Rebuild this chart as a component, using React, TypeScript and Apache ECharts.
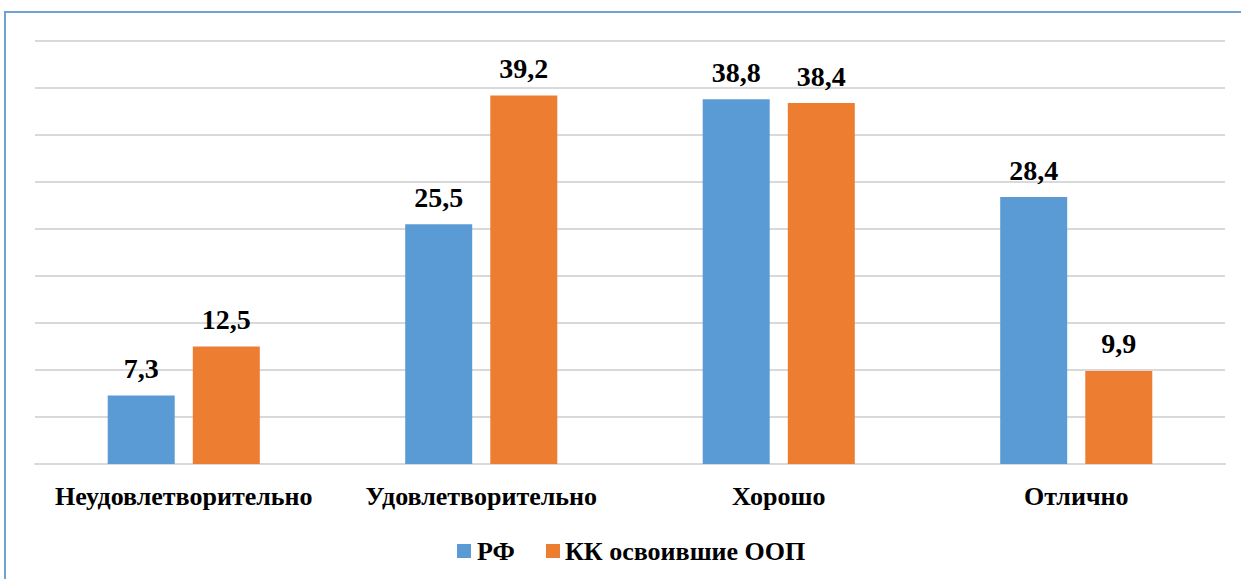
import React, { useEffect, useRef } from "react";
import * as echarts from "echarts";

const categories = ["Неудовлетворительно", "Удовлетворительно", "Хорошо", "Отлично"];
const seriesNames = ["РФ", "КК освоившие ООП"];
const rfValues = [7.3, 25.5, 38.8, 28.4];
const kkValues = [12.5, 39.2, 38.4, 9.9];
const colors = ["#5B9BD5", "#ED7D31"];

const FONT = "Liberation Serif";
const K = 2;

export default function App() {
  const ref = useRef<HTMLDivElement>(null);
  useEffect(() => {
    document.body.style.margin = "0";
    const chart = echarts.init(ref.current!, undefined, { renderer: "svg" });
    const seriesData = [rfValues, kkValues];
    chart.setOption({
      animation: false,
      backgroundColor: "#fff",
      color: colors,
      grid: { left: 35, right: 16, top: 41, bottom: 115 },
      xAxis: {
        type: "category",
        data: categories,
        axisTick: { show: false },
        axisLine: { lineStyle: { color: "#d9d9d9", width: 2 } },
        axisLabel: { show: false },
      },
      yAxis: {
        type: "value",
        min: 0,
        max: 45,
        interval: 5,
        axisLabel: { show: false },
        axisLine: { show: false },
        axisTick: { show: false },
        splitLine: { lineStyle: { color: "#d9d9d9", width: 2 } },
      },
      series: seriesData.map((d, i) => ({
        name: seriesNames[i],
        type: "bar",
        data: d,
        barWidth: 67,
        barGap: "27%",
      })),
    });

    const mkText = (x: number, y: number, text: string, size: number, align: string, vAlign: string) => ({
      type: "text",
      x,
      y,
      scaleX: K,
      scaleY: K,
      style: {
        text,
        align,
        verticalAlign: vAlign,
        fontFamily: FONT,
        fontWeight: "bold",
        fontSize: size / K,
        fill: "#000",
      },
    });
    const graphics: any[] = [
      {
        type: "rect",
        shape: { x: 5, y: 12, width: 1300, height: 640 },
        style: { fill: "none", stroke: "#6FA3D8", lineWidth: 2 },
        silent: true,
        z: 100,
      },
    ];
    const model = (chart as any).getModel();
    seriesData.forEach((d, si) => {
      const data = model.getSeriesByIndex(si).getData();
      d.forEach((v, i) => {
        const l = data.getItemLayout(i);
        const top = Math.min(l.y, l.y + l.height);
        graphics.push(
          mkText(l.x + l.width / 2, top - 13, String(v).replace(".", ","), 28, "center", "bottom")
        );
      });
    });
    const axisY = chart.convertToPixel({ yAxisIndex: 0 }, 0) as number;
    categories.forEach((c, i) => {
      const x = chart.convertToPixel({ xAxisIndex: 0 }, i) as number;
      graphics.push(mkText(x, axisY + 32, c, 26, "center", "middle"));
    });
    // legend
    const legendItems = [
      { sx: 457, tx: 477 },
      { sx: 546, tx: 565 },
    ];
    legendItems.forEach((it, i) => {
      graphics.push({
        type: "rect",
        shape: { x: it.sx, y: 544, width: 14, height: 14 },
        style: { fill: colors[i] },
      });
      graphics.push(mkText(it.tx, 551, seriesNames[i], 26, "left", "middle"));
    });
    chart.setOption({ graphic: graphics });
    return () => chart.dispose();
  }, []);
  return <div ref={ref} style={{ width: 1241, height: 579 }} />;
}
